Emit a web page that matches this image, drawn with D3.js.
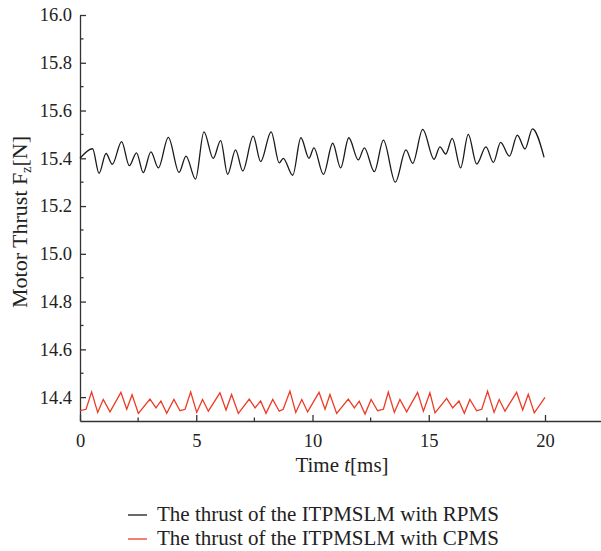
<!DOCTYPE html>
<html>
<head>
<meta charset="utf-8">
<script src="https://cdn.jsdelivr.net/npm/d3@7"></script>
<style>
  body { margin: 0; background: #fff; }
  text { font-family: "Liberation Serif", "Times New Roman", serif; fill: #222; }
</style>
</head>
<body>
<svg id="chart" width="601" height="551"></svg>
<script>
// thrust with RPMS (black)
const rpmsTime = [0.00, 0.54, 0.82, 1.12, 1.39, 1.79, 2.12, 2.43, 2.72, 3.05, 3.37, 3.80, 4.26, 4.56, 4.97, 5.33, 5.73, 6.05, 6.35, 6.69, 7.00, 7.45, 7.77, 8.22, 8.57, 8.74, 9.15, 9.50, 9.85, 10.06, 10.47, 10.87, 11.21, 11.56, 11.97, 12.23, 12.66, 13.05, 13.56, 14.02, 14.31, 14.74, 15.23, 15.48, 15.73, 16.01, 16.37, 16.70, 17.06, 17.46, 17.78, 18.09, 18.47, 18.81, 19.14, 19.46, 19.96]
const rpmsThrust = [15.40, 15.44, 15.337, 15.42, 15.375, 15.47, 15.369, 15.423, 15.34, 15.427, 15.36, 15.488, 15.341, 15.409, 15.313, 15.511, 15.40, 15.474, 15.333, 15.435, 15.347, 15.493, 15.386, 15.511, 15.381, 15.40, 15.329, 15.486, 15.40, 15.444, 15.333, 15.463, 15.36, 15.486, 15.393, 15.444, 15.344, 15.476, 15.30, 15.435, 15.379, 15.521, 15.396, 15.448, 15.418, 15.483, 15.36, 15.50, 15.376, 15.448, 15.383, 15.467, 15.409, 15.497, 15.439, 15.523, 15.404]

// thrust with CPMS (red)
const cpmsTime = [0.00, 0.26, 0.50, 0.76, 1.00, 1.29, 1.76, 2.01, 2.24, 2.51, 3.01, 3.27, 3.48, 3.73, 4.04, 4.30, 4.52, 4.76, 5.02, 5.27, 5.52, 6.02, 6.28, 6.52, 6.81, 7.28, 7.53, 7.77, 8.00, 8.29, 8.57, 8.74, 9.03, 9.28, 9.54, 9.79, 10.28, 10.54, 10.75, 11.04, 11.54, 11.80, 12.01, 12.26, 12.52, 12.80, 13.05, 13.26, 13.52, 13.76, 14.05, 14.52, 14.77, 15.05, 15.27, 15.77, 16.03, 16.30, 16.53, 16.77, 17.06, 17.28, 17.53, 17.81, 18.03, 18.28, 18.78, 19.04, 19.28, 19.54, 20.00]
const cpmsThrust = [14.343, 14.349, 14.422, 14.336, 14.390, 14.338, 14.420, 14.349, 14.410, 14.332, 14.392, 14.355, 14.384, 14.332, 14.390, 14.343, 14.349, 14.422, 14.336, 14.390, 14.341, 14.418, 14.346, 14.411, 14.332, 14.392, 14.355, 14.384, 14.332, 14.390, 14.341, 14.349, 14.425, 14.336, 14.390, 14.338, 14.420, 14.349, 14.411, 14.332, 14.392, 14.355, 14.383, 14.329, 14.390, 14.343, 14.349, 14.421, 14.336, 14.390, 14.338, 14.420, 14.341, 14.418, 14.334, 14.395, 14.355, 14.384, 14.332, 14.390, 14.343, 14.349, 14.425, 14.336, 14.390, 14.341, 14.420, 14.346, 14.412, 14.334, 14.399]

const xMajor = [0, 5, 10, 15, 20]
const xMinor = [2.5, 7.5, 12.5, 17.5]
const yMajor = [14.4, 14.6, 14.8, 15.0, 15.2, 15.4, 15.6, 15.8, 16.0]
const yMinor = [14.5, 14.7, 14.9, 15.1, 15.3, 15.5, 15.7, 15.9]

const legendLabels = ['The thrust of the ITPMSLM with RPMS', 'The thrust of the ITPMSLM with CPMS']
const lineColors = ['#1a1a1a', '#ee3b26']

const svg = d3.select('#chart')
const axisColor = '#333'
const serif = '"Liberation Serif", "Times New Roman", serif'

// scales
const x = d3.scaleLinear().domain([0, 22.4]).range([80, 600.8])
const y = d3.scaleLinear().domain([14.3, 16.0]).range([421, 15])

// axes: ticks point inward
const xAxis = svg.append('g').attr('transform', `translate(0, ${y(14.3)})`)
xAxis.call(d3.axisBottom(x).tickValues(xMajor).tickSizeInner(-6).tickSizeOuter(0).tickPadding(12.5).tickFormat(d3.format('d')))
xAxis.append('g').selectAll('line')
  .data(xMinor)
  .enter().append('line')
  .attr('x1', d => x(d)).attr('x2', d => x(d))
  .attr('y1', 0).attr('y2', -3.5)

const yAxis = svg.append('g').attr('transform', `translate(${x(0)}, 0)`)
yAxis.call(d3.axisLeft(y).tickValues(yMajor).tickSizeInner(-6).tickSizeOuter(0).tickPadding(8).tickFormat(d3.format('.1f')))
yAxis.append('g').selectAll('line')
  .data(yMinor)
  .enter().append('line')
  .attr('y1', d => y(d)).attr('y2', d => y(d))
  .attr('x1', 0).attr('x2', 3.5)

svg.selectAll('.domain, .tick line, g > g > line')
  .attr('stroke', axisColor)
  .attr('stroke-width', 1.3)
svg.selectAll('.tick text')
  .style('font-family', serif)
  .style('font-size', '18.5px')
  .attr('fill', '#222')

// axis titles
const xTitle = svg.append('text')
  .attr('x', 342)
  .attr('y', 472)
  .attr('text-anchor', 'middle')
  .style('font-family', serif)
  .style('font-size', '21px')
xTitle.append('tspan').text('Time ')
xTitle.append('tspan').attr('font-style', 'italic').text('t')
xTitle.append('tspan').text('[ms]')

const yTitle = svg.append('text')
  .attr('transform', 'translate(27, 222) rotate(-90)')
  .attr('text-anchor', 'middle')
  .style('font-family', serif)
  .style('font-size', '22px')
yTitle.append('tspan').text('Motor Thrust F')
yTitle.append('tspan').style('font-size', '14px').attr('dy', 4).text('z')
yTitle.append('tspan').attr('dy', -4).text('[N]')

// lines
const rpmsData = rpmsTime.map((t, i) => ({t, v: rpmsThrust[i]}))
const cpmsData = cpmsTime.map((t, i) => ({t, v: cpmsThrust[i]}))

const smoothLine = d3.line().x(d => x(d.t)).y(d => y(d.v)).curve(d3.curveMonotoneX)
const sharpLine = d3.line().x(d => x(d.t)).y(d => y(d.v)).curve(d3.curveLinear)

svg.append('path')
  .attr('d', smoothLine(rpmsData))
  .attr('fill', 'none')
  .attr('stroke', lineColors[0])
  .attr('stroke-width', 1.3)

svg.append('path')
  .attr('d', sharpLine(cpmsData))
  .attr('fill', 'none')
  .attr('stroke', lineColors[1])
  .attr('stroke-width', 1.3)

// legend
const legendG = svg.selectAll('.legend')
  .data(legendLabels)
  .enter().append('g')
  .attr('class', 'legend')
  .attr('transform', (d, i) => `translate(128, ${515 + i * 24})`)

legendG.append('line')
  .attr('x1', 0).attr('x2', 19)
  .attr('stroke', (d, i) => lineColors[i])
  .attr('stroke-width', 1.3)

legendG.append('text')
  .attr('x', 29)
  .attr('y', 6)
  .style('font-family', serif)
  .style('font-size', '21px')
  .text(d => d)
</script>
</body>
</html>
